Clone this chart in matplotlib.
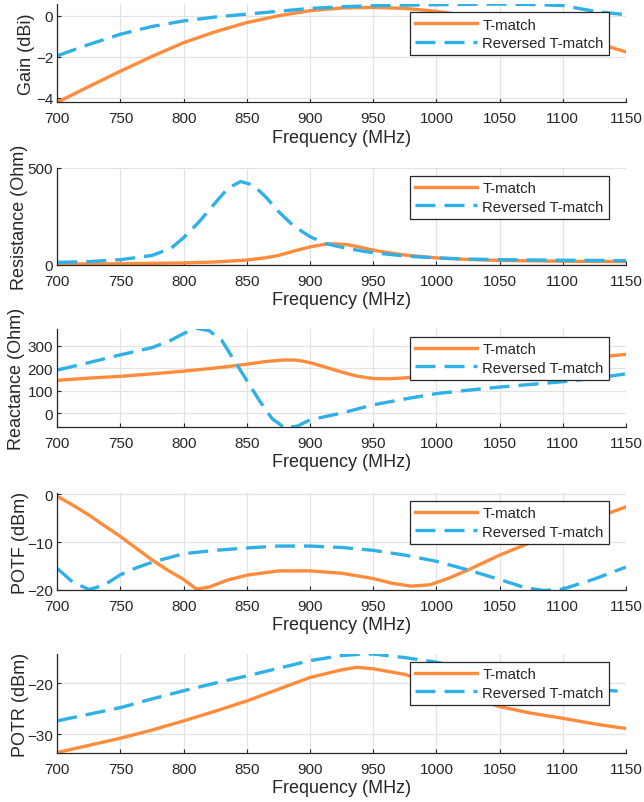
import matplotlib.pyplot as plt

plt.rcParams['font.family'] = ['Liberation Sans', 'DejaVu Sans']

# 颜色 / 线型
ORANGE = '#FF8C3C'
BLUE = '#2FB0E6'
TEXT = '#262626'
GRID = '#E3E3E3'

LABELS = ['T-match', 'Reversed T-match']
XTICKS = [700, 750, 800, 850, 900, 950, 1000, 1050, 1100, 1150]

# ---- Gain (dBi)
gain_f = [700, 725, 750, 775, 800, 825, 850, 875, 900, 925, 950, 975, 1000, 1025, 1050, 1075, 1100, 1125, 1150]
gain_t = [-4.22, -3.45, -2.7, -1.98, -1.31, -0.78, -0.33, 0.0, 0.25, 0.38, 0.41, 0.36, 0.22, 0.0, -0.25, -0.55, -0.9, -1.3, -1.76]
gain_r = [-1.95, -1.4, -0.9, -0.52, -0.25, -0.06, 0.08, 0.22, 0.36, 0.44, 0.49, 0.52, 0.54, 0.56, 0.57, 0.55, 0.5, 0.22, 0.05]

# ---- Resistance (Ohm)
res_f_t = [700, 750, 800, 825, 850, 865, 875, 887, 900, 912, 920, 930, 940, 950, 962, 975, 1000, 1025, 1050, 1100, 1150]
res_t = [3, 5, 9, 14, 24, 36, 48, 70, 92, 106, 108, 103, 90, 75, 62, 50, 35, 27, 22, 18, 16]
res_f_r = [700, 725, 750, 775, 790, 800, 812, 825, 835, 845, 855, 865, 875, 887, 900, 912, 925, 940, 950, 975, 1000, 1025, 1050, 1100, 1150]
res_r = [12, 16, 26, 48, 85, 140, 220, 320, 395, 430, 412, 350, 275, 200, 145, 110, 90, 72, 62, 45, 35, 29, 26, 23, 21]

# ---- Reactance (Ohm)
rea_f_t = [700, 725, 750, 775, 800, 825, 850, 865, 880, 890, 900, 912, 925, 937, 950, 962, 975, 1000, 1025, 1050, 1075, 1100, 1125, 1150]
rea_t = [146, 156, 164, 175, 187, 201, 218, 230, 237, 236, 225, 205, 183, 165, 154, 153, 157, 170, 185, 200, 215, 232, 248, 262]
rea_f_r = [700, 725, 750, 775, 790, 800, 810, 820, 830, 840, 850, 860, 870, 880, 890, 900, 925, 950, 975, 1000, 1025, 1050, 1075, 1100, 1125, 1150]
rea_r = [192, 225, 260, 292, 325, 355, 378, 368, 325, 235, 145, 55, -25, -66, -58, -30, 0, 37, 63, 87, 102, 116, 128, 140, 155, 175]

# ---- POTF (dBm)
potf_f_t = [700, 712, 725, 737, 750, 756, 775, 787, 800, 810, 820, 835, 850, 875, 900, 925, 950, 965, 980, 995, 1010, 1025, 1050, 1075, 1100, 1125, 1150]
potf_t = [-0.4, -2.2, -4.3, -6.5, -8.8, -10.0, -13.7, -15.8, -17.8, -19.8, -19.4, -17.9, -16.9, -16.0, -16.0, -16.5, -17.6, -18.6, -19.2, -18.9, -17.5, -15.8, -12.7, -10.0, -7.3, -5.0, -2.6]
potf_f_r = [700, 712, 725, 737, 750, 762, 775, 800, 825, 850, 875, 900, 925, 950, 975, 1000, 1025, 1050, 1070, 1085, 1100, 1125, 1150]
potf_r = [-15.5, -18.3, -19.9, -19.0, -16.8, -15.4, -14.2, -12.4, -11.7, -11.2, -10.8, -10.8, -11.1, -11.7, -12.7, -14.0, -15.8, -17.8, -19.5, -20.1, -19.8, -17.7, -15.2]

# ---- POTR (dBm)
potr_f = [700, 725, 750, 775, 800, 825, 850, 875, 900, 925, 937, 950, 975, 1000, 1025, 1050, 1075, 1100, 1125, 1150]
potr_t = [-33.6, -32.2, -30.8, -29.2, -27.4, -25.5, -23.5, -21.2, -18.9, -17.4, -16.9, -17.2, -18.3, -20.2, -22.8, -24.6, -25.9, -26.9, -28.0, -28.9]
potr_r = [-27.4, -26.1, -24.8, -23.1, -21.5, -20.0, -18.6, -17.1, -15.6, -14.6, -14.4, -14.3, -15.0, -15.9, -17.2, -18.5, -19.6, -20.5, -21.2, -21.7]

panels = [
    ('Gain (dBi)', (gain_f, gain_t), (gain_f, gain_r), (-4.22, 0.56), [-4, -2, 0]),
    ('Resistance (Ohm)', (res_f_t, res_t), (res_f_r, res_r), (0, 500), [0, 500]),
    ('Reactance (Ohm)', (rea_f_t, rea_t), (rea_f_r, rea_r), (-62, 375), [0, 100, 200, 300]),
    ('POTF (dBm)', (potf_f_t, potf_t), (potf_f_r, potf_r), (-20, 0.3), [-20, -10, 0]),
    ('POTR (dBm)', (potr_f, potr_t), (potr_f, potr_r), (-33.7, -14.3), [-30, -20]),
]

# 各子图在画布中的像素位置 (top, bottom)，以及 ylabel 右边缘的 x 像素
W, H = 644, 803
LEFT, RIGHT = 57.3, 626
ROWS = [(5.3, 103.3), (169, 265.7), (330, 428), (494, 591), (655, 754)]
YLAB_X = [35, 28, 25, 29, 29]

fig = plt.figure(figsize=(W / 100, H / 100), dpi=100)

for (ylabel, t, r, ylim, yticks), (top, bot), lx in zip(panels, ROWS, YLAB_X):
    ax = fig.add_axes([LEFT / W, 1 - bot / H, (RIGHT - LEFT) / W, (bot - top) / H])
    ax.plot(t[0], t[1], color=ORANGE, lw=2.4, label=LABELS[0])
    ax.plot(r[0], r[1], color=BLUE, lw=2.4, ls=(0, (6, 2.7)), label=LABELS[1])
    ax.set_xlim(700, 1150)
    ax.set_ylim(*ylim)
    ax.set_xticks(XTICKS)
    ax.set_yticks(yticks)
    ax.grid(True, color=GRID, lw=0.9)
    ax.set_axisbelow(True)
    for s in ('top', 'right'):
        ax.spines[s].set_visible(False)
    for s in ('left', 'bottom'):
        ax.spines[s].set_color(TEXT)
        ax.spines[s].set_linewidth(0.9)
    ax.tick_params(direction='in', length=3, width=0.8, colors=TEXT, labelsize=11)
    ax.tick_params(axis='x', pad=6.5)
    ax.tick_params(axis='y', pad=3)
    ax.set_xlabel('Frequency (MHz)', fontsize=13, color=TEXT, labelpad=2.5)
    ax.set_ylabel(ylabel, fontsize=13, color=TEXT)
    ax.yaxis.set_label_coords((lx - LEFT) / (RIGHT - LEFT), 0.5)
    leg = ax.legend(loc='upper right', bbox_to_anchor=(1 - 17 / (RIGHT - LEFT), 1 - 8 / (bot - top)),
                    borderaxespad=0, fontsize=10.7, frameon=True, fancybox=False,
                    handlelength=4.2, handletextpad=0.35, labelspacing=0.3, borderpad=0.35)
    leg.get_frame().set_edgecolor(TEXT)
    leg.get_frame().set_linewidth(0.9)
    leg.get_frame().set_alpha(1)
    for txt in leg.get_texts():
        txt.set_color(TEXT)

fig.savefig('out.png', dpi=100)
